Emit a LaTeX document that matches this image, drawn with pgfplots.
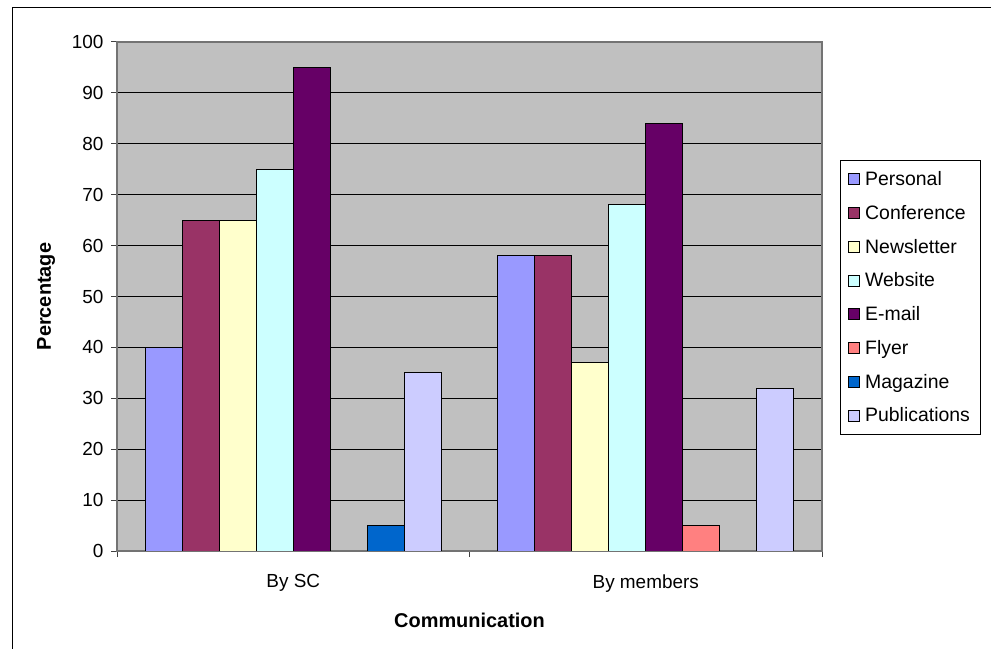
\documentclass[border=0pt]{standalone}
\usepackage{pgfplots}
\pgfplotsset{compat=1.18}
\usepackage{fontspec}
\setmainfont{Liberation Sans}

\definecolor{cPersonal}{HTML}{9999FF}
\definecolor{cConference}{HTML}{993366}
\definecolor{cNewsletter}{HTML}{FFFFCC}
\definecolor{cWebsite}{HTML}{CCFFFF}
\definecolor{cEmail}{HTML}{660066}
\definecolor{cFlyer}{HTML}{FF8080}
\definecolor{cMagazine}{HTML}{0066CC}
\definecolor{cPublications}{HTML}{CCCCFF}
\definecolor{plotgray}{HTML}{C0C0C0}

\begin{document}
\begin{tikzpicture}
\useasboundingbox (0bp,0bp) rectangle (991bp,649bp);
\draw[line width=1bp] (12bp,-5bp) -- (12bp,641bp) -- (996bp,641bp);
\begin{axis}[
    at={(117bp,98bp)}, anchor=south west,
    scale only axis,
    width=705bp, height=509bp,
    ybar=0pt, bar width=37bp,
    xmin=-0.5, xmax=1.5,
    ymin=0, ymax=100,
    ytick={0,10,...,100},
    xtick={-0.5,0.5,1.5},
    xticklabels={},
    extra x ticks={0,1},
    extra x tick labels={By SC,By members},
    extra x tick style={major tick length=0pt,
        xticklabel style={yshift=-20bp}},
    xtick pos=bottom, ytick pos=left,
    tick align=outside,
    major tick length=6bp,
    tick style={draw=black!75, line width=1bp},
    ymajorgrids,
    grid style={draw=black, line width=0.8bp},
    axis background/.style={fill=plotgray},
    axis line style={draw=black!55, line width=1.5bp},
    tick label style={font=\fontsize{19}{22}\selectfont},
    yticklabel style={xshift=-4bp},
    /pgf/number format/assume math mode=true,
    xlabel={\bfseries Communication},
    ylabel={\bfseries Percentage},
    label style={font=\fontsize{20}{23}\selectfont},
    xlabel style={yshift=-8bp},
    ylabel style={yshift=10bp},
    legend cell align=left,
    legend style={at={(1.0255,0.768)}, anchor=north west,
        draw=black, line width=0.8bp,
        font=\fontsize{19.5}{22}\selectfont,
        row sep=14.2bp, inner xsep=8bp, inner ysep=9bp,
        /tikz/every odd column/.append style={column sep=3bp}},
    legend image code/.code={\draw[#1, line width=0.8bp] (0bp,-5.5bp) rectangle (11bp,5.5bp);},
    every axis plot/.append style={draw=black, line width=1bp},
]
\addplot[fill=cPersonal] coordinates {(0,40) (1,58)};
\addlegendentry{Personal}
\addplot[fill=cConference] coordinates {(0,65) (1,58)};
\addlegendentry{Conference}
\addplot[fill=cNewsletter] coordinates {(0,65) (1,37)};
\addlegendentry{Newsletter}
\addplot[fill=cWebsite] coordinates {(0,75) (1,68)};
\addlegendentry{Website}
\addplot[fill=cEmail] coordinates {(0,95) (1,84)};
\addlegendentry{E-mail}
\addplot[fill=cFlyer] coordinates {(1,5)};
\addlegendentry{Flyer}
\addplot[fill=cMagazine] coordinates {(0,5)};
\addlegendentry{Magazine}
\addplot[fill=cPublications] coordinates {(0,35) (1,32)};
\addlegendentry{Publications}
\end{axis}
\end{tikzpicture}
\end{document}
